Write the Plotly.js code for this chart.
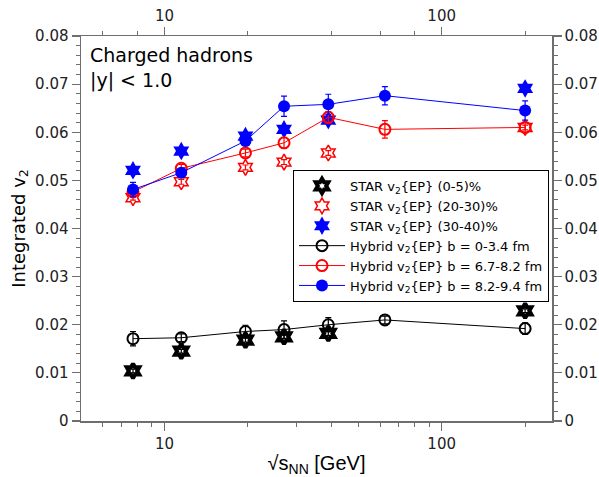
<!DOCTYPE html>
<html>
<head>
<meta charset="utf-8">
<script src="https://cdn.plot.ly/plotly-3.0.1.min.js"></script>
<style>html,body{margin:0;padding:0;background:#fff;}#chart{width:599px;height:477px;}</style>
</head>
<body>
<div id="chart"></div>
<script>
// ---- data ----
const energyHybrid = [7.7, 11.5, 19.6, 27, 39, 62.4, 200];
const energyStar = [7.7, 11.5, 19.6, 27, 39, 200];

const star_0_5 = [0.0104, 0.0145, 0.0168, 0.0175, 0.0182, 0.0229];
const star_0_5_err = [0.0004, 0.0004, 0.0004, 0.0004, 0.0004, 0.0004];
const star_20_30 = [0.0464, 0.0497, 0.0527, 0.0538, 0.0557, 0.0610];
const star_20_30_err = [0.0005, 0.0005, 0.0005, 0.0005, 0.0005, 0.0005];
const star_30_40 = [0.0521, 0.0561, 0.0592, 0.0606, 0.0625, 0.0691];
const star_30_40_err = [0.0004, 0.0004, 0.0004, 0.0004, 0.0004, 0.0004];

const hyb_b0_34 = [0.0171, 0.0173, 0.0186, 0.0190, 0.0200, 0.0210, 0.0192];
const hyb_b0_34_err = [0.0015, 0.0008, 0.0013, 0.0018, 0.0015, 0.0008, 0.0012];
const hyb_b67_82 = [0.0476, 0.0525, 0.0557, 0.0578, 0.0631, 0.0606, 0.0610];
const hyb_b67_82_err = [0.0008, 0.0008, 0.0008, 0.0011, 0.0012, 0.0018, 0.0010];
const hyb_b82_94 = [0.0481, 0.0516, 0.0582, 0.0654, 0.0658, 0.0676, 0.0645];
const hyb_b82_94_err = [0.0015, 0.0008, 0.0010, 0.0021, 0.0021, 0.0019, 0.0020];

const xMajorTicks = [10, 100];
const xTickLabels = ['10', '100'];
const xMinorBottom = [6, 7, 8, 9, 20, 30, 40, 50, 60, 70, 80, 90, 200];
const xMinorTop = [6, 8, 20, 40, 60, 80, 200];
const yTicks = [0, 0.01, 0.02, 0.03, 0.04, 0.05, 0.06, 0.07, 0.08];
const yTickLabels = ['0', '0.01', '0.02', '0.03', '0.04', '0.05', '0.06', '0.07', '0.08'];

// ---- traces ----
function err(arr, color) {
  return {type: 'data', array: arr, visible: true, color: color, thickness: 1.2, width: 3};
}
const traces = [
  {x: energyStar, y: star_0_5, error_y: err(star_0_5_err, '#000'), mode: 'markers', type: 'scatter',
   name: 'STAR v<sub>2</sub>{EP} (0-5)%',
   marker: {symbol: 'hexagram-open', size: 11, color: '#000', line: {width: 4, color: '#000'}}},
  {x: energyStar, y: star_20_30, error_y: err(star_20_30_err, '#ff0000'), mode: 'markers', type: 'scatter',
   name: 'STAR v<sub>2</sub>{EP} (20-30)%',
   marker: {symbol: 'hexagram-open', size: 12, color: '#ff0000', line: {width: 1.5, color: '#ff0000'}}},
  {x: energyStar, y: star_30_40, error_y: err(star_30_40_err, '#0000ff'), mode: 'markers', type: 'scatter',
   name: 'STAR v<sub>2</sub>{EP} (30-40)%',
   marker: {symbol: 'hexagram', size: 14, color: '#0000ff', line: {width: 0}}},
  {x: energyHybrid, y: hyb_b0_34, error_y: err(hyb_b0_34_err, '#000'), mode: 'lines+markers', type: 'scatter',
   name: 'Hybrid v<sub>2</sub>{EP} b = 0-3.4 fm',
   line: {color: '#000', width: 1},
   marker: {symbol: 'circle-open', size: 11, color: '#000', line: {width: 2, color: '#000'}}},
  {x: energyHybrid, y: hyb_b67_82, error_y: err(hyb_b67_82_err, '#ff0000'), mode: 'lines+markers', type: 'scatter',
   name: 'Hybrid v<sub>2</sub>{EP} b = 6.7-8.2 fm',
   line: {color: '#ff0000', width: 1},
   marker: {symbol: 'circle-open', size: 11, color: '#ff0000', line: {width: 2, color: '#ff0000'}}},
  {x: energyHybrid, y: hyb_b82_94, error_y: err(hyb_b82_94_err, '#0000ff'), mode: 'lines+markers', type: 'scatter',
   name: 'Hybrid v<sub>2</sub>{EP} b = 8.2-9.4 fm',
   line: {color: '#0000ff', width: 1},
   marker: {symbol: 'circle', size: 12, color: '#0000ff', line: {width: 0}}},
  // invisible trace to activate the top/right axes
  {x: [10], y: [0.04], xaxis: 'x2', yaxis: 'y2', mode: 'markers', marker: {opacity: 0}, showlegend: false, hoverinfo: 'skip'}
];

const axisGray = '#6e6e6e';
const tickFont = {family: 'DejaVu Sans', size: 15, color: '#222'};
const xrange = [Math.log10(5), Math.log10(250)];
const yrange = [0, 0.08];

const layout = {
  width: 599, height: 477,
  margin: {l: 81, r: 47, t: 36, b: 56},
  paper_bgcolor: '#fff', plot_bgcolor: '#fff',
  showlegend: true,
  legend: {
    x: (549 - 81) / 471, xanchor: 'right', y: 1 - (170 - 36) / 385, yanchor: 'top',
    bordercolor: '#000', borderwidth: 1, bgcolor: '#fff',
    font: {family: 'DejaVu Sans', size: 13, color: '#000'},
    itemwidth: 46,
    tracegroupgap: 0
  },
  xaxis: {
    type: 'log', range: xrange, showgrid: false, zeroline: false,
    showline: true, linecolor: axisGray, linewidth: 1.5,
    ticks: 'outside', ticklen: 8, tickwidth: 1.2, tickcolor: axisGray,
    tickmode: 'array', tickvals: xMajorTicks, ticktext: xTickLabels,
    tickfont: tickFont,
    minor: {tickmode: 'array', tickvals: xMinorBottom, ticks: 'outside', ticklen: 4, tickwidth: 1, tickcolor: axisGray, showgrid: false},
    title: {text: '√s<sub>NN</sub> [GeV]', font: {family: 'Liberation Sans', size: 20, color: '#000'}, standoff: 10}
  },
  xaxis2: {
    type: 'log', range: xrange, overlaying: 'x', side: 'top', anchor: 'y', showgrid: false, zeroline: false,
    showline: true, linecolor: axisGray, linewidth: 1.5,
    ticks: 'outside', ticklen: 8, tickwidth: 1.2, tickcolor: axisGray,
    tickmode: 'array', tickvals: xMajorTicks, ticktext: xTickLabels,
    tickfont: tickFont,
    minor: {tickmode: 'array', tickvals: xMinorTop, ticks: 'outside', ticklen: 4, tickwidth: 1, tickcolor: axisGray, showgrid: false}
  },
  yaxis: {
    range: yrange, showgrid: false, zeroline: false,
    showline: true, linecolor: axisGray, linewidth: 1.5,
    ticks: 'outside', ticklen: 8, tickwidth: 1.2, tickcolor: axisGray,
    tickmode: 'array', tickvals: yTicks, ticktext: yTickLabels,
    tickfont: tickFont,
    minor: {tickmode: 'linear', tick0: 0, dtick: 0.002, ticks: 'outside', ticklen: 4, tickwidth: 1, tickcolor: axisGray, showgrid: false},
    title: {text: 'Integrated v<sub>2</sub>', font: {family: 'DejaVu Sans', size: 18, color: '#000'}, standoff: 5}
  },
  yaxis2: {
    range: yrange, overlaying: 'y', side: 'right', anchor: 'x', showgrid: false, zeroline: false,
    showline: true, linecolor: axisGray, linewidth: 1.5,
    ticks: 'outside', ticklen: 8, tickwidth: 1.2, tickcolor: axisGray,
    tickmode: 'array', tickvals: yTicks, ticktext: yTickLabels,
    tickfont: tickFont,
    minor: {tickmode: 'linear', tick0: 0, dtick: 0.002, ticks: 'outside', ticklen: 4, tickwidth: 1, tickcolor: axisGray, showgrid: false}
  },
  annotations: [{
    xref: 'paper', yref: 'paper', x: 0.015, y: 0.985, xanchor: 'left', yanchor: 'top',
    align: 'left', showarrow: false,
    text: 'Charged hadrons<br>|y| &lt; 1.0',
    font: {family: 'DejaVu Sans', size: 19, color: '#000'}
  }]
};

Plotly.newPlot('chart', traces, layout, {displayModeBar: false, staticPlot: true});
</script>
</body>
</html>
